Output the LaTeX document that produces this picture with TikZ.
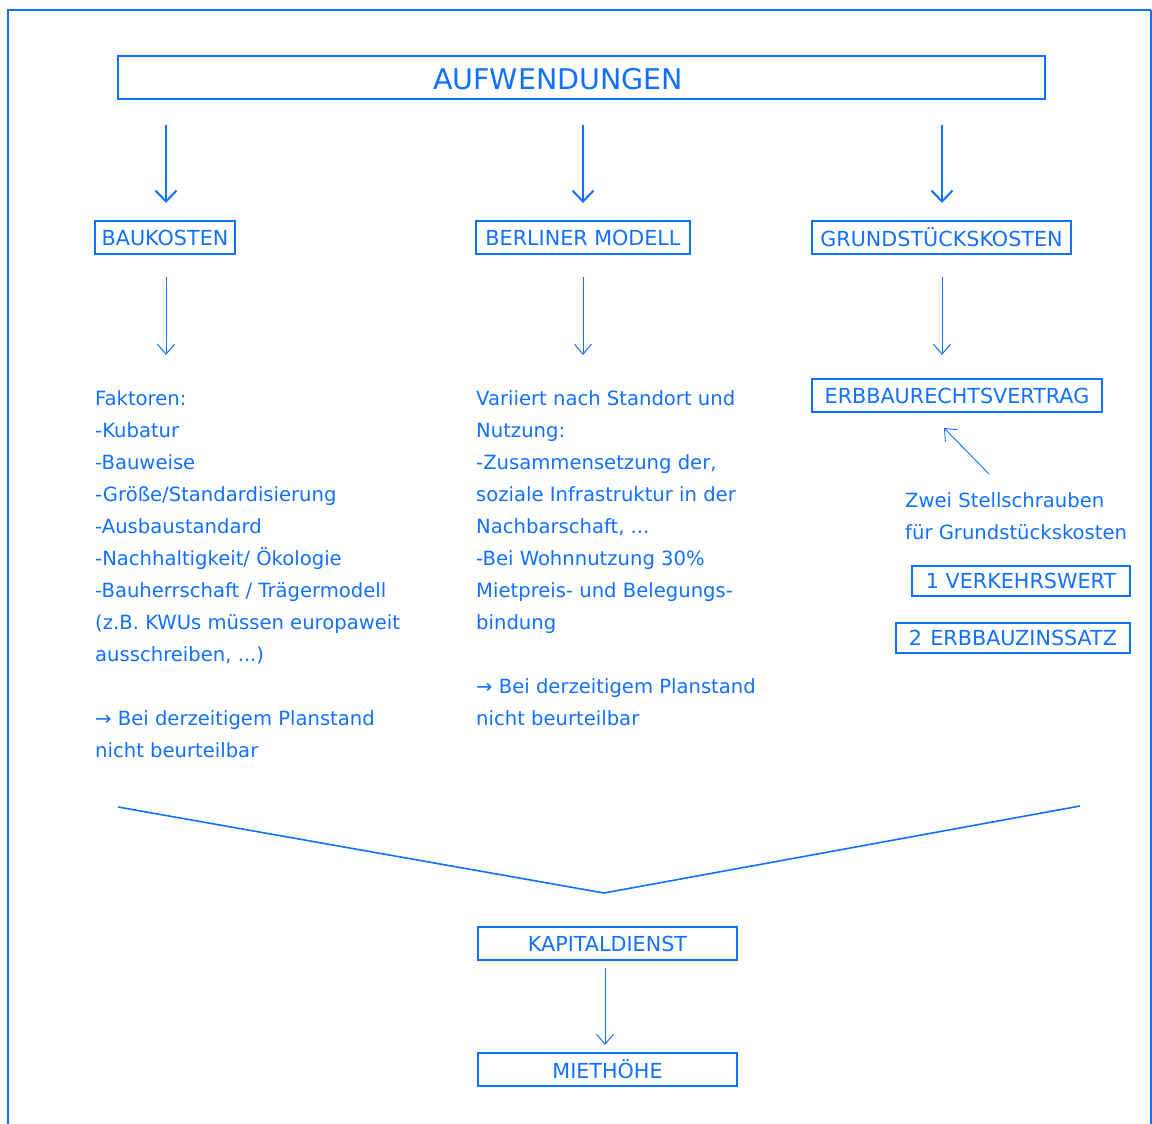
\documentclass[tikz,border=0pt]{standalone}
\usepackage{fontspec}
\setmainfont{DejaVu Sans}
\usetikzlibrary{arrows.meta}
\definecolor{ink}{RGB}{18,112,255}
\begin{document}
\begin{tikzpicture}[x=1pt,y=-1pt,
  every node/.style={text=ink},
  txt/.style={font=\fontsize{19.6}{32}\selectfont, anchor=base west, align=left, inner sep=0pt},
  boxlbl/.style={draw=ink, line width=1.2pt, inner sep=0pt, font=\fontsize{20.7}{24}\selectfont},
  bigarrow/.style={draw=ink, line width=2pt, -{Straight Barb[length=11pt,width=21pt]}},
  smallarrow/.style={draw=ink, line width=1pt, -{Straight Barb[length=10pt,width=17pt]}}
]
\useasboundingbox (0,0) rectangle (1152,1124);
% outer frame, open at the bottom
\draw[ink, line width=2.4pt] (8,1124) -- (8,10) -- (1151,10);
\draw[ink, line width=1.2pt] (1151,10) -- (1151,1124);

% heading
\node[boxlbl, minimum width=927pt, minimum height=43pt] (aufw) at (581.5,77.5) {};
\node[text=ink, font=\fontsize{28.5}{32}\selectfont, inner sep=0pt] (aufwtxt) at (558,79) {AUFWENDUNGEN};

% three cost categories
\node[boxlbl, minimum width=140pt, minimum height=33pt] (bau) at (165,237.5) {BAUKOSTEN};
\node[boxlbl, minimum width=214pt, minimum height=33pt] (berl) at (583,237.5) {BERLINER MODELL};
\node[boxlbl, minimum width=259pt, minimum height=33pt] (grund) at (941.5,237.5) {GRUNDSTÜCKSKOSTEN};

\coordinate (a1s) at (166,125); \coordinate (a1e) at (166,203);
\coordinate (a2s) at (583,125); \coordinate (a2e) at (583,203);
\coordinate (a3s) at (942,125); \coordinate (a3e) at (942,203);
\draw[bigarrow] (a1s) -- (a1e);
\draw[bigarrow] (a2s) -- (a2e);
\draw[bigarrow] (a3s) -- (a3e);

\coordinate (b1s) at (166,277); \coordinate (b1e) at (166,355);
\coordinate (b2s) at (583,277); \coordinate (b2e) at (583,355);
\coordinate (b3s) at (942,277); \coordinate (b3e) at (942,355);
\draw[smallarrow] (b1s) -- (b1e);
\draw[smallarrow] (b2s) -- (b2e);
\draw[smallarrow] (b3s) -- (b3e);

% column texts (anchored at the baseline of their last line)
\node[txt] (col1) at (95,757) {Faktoren:\\-Kubatur\\-Bauweise\\-Größe/Standardisierung\\-Ausbaustandard\\-Nachhaltigkeit/ Ökologie\\-Bauherrschaft / Trägermodell\\(z.B. KWUs müssen europaweit\\ausschreiben, ...)\\[32pt]→ Bei derzeitigem Planstand\\nicht beurteilbar};
\node[txt] (col2) at (476,725) {Variiert nach Standort und\\Nutzung:\\-Zusammensetzung der,\\soziale Infrastruktur in der\\Nachbarschaft, ...\\-Bei Wohnnutzung 30\%\\Mietpreis- und Belegungs-\\bindung\\[32pt]→ Bei derzeitigem Planstand\\nicht beurteilbar};

% land cost column
\node[boxlbl, minimum width=290pt, minimum height=33pt] (erbv) at (957,395.5) {ERBBAURECHTSVERTRAG};
\node[txt] (zwei) at (905,539) {Zwei Stellschrauben\\für Grundstückskosten};
\coordinate (d1) at (989,474);
\coordinate (d2) at (944,428);
\draw[smallarrow, line width=0.9pt] (d1) -- (d2);
\node[boxlbl, minimum width=218pt, minimum height=30pt] (verk) at (1021,581) {1 VERKEHRSWERT};
\node[boxlbl, minimum width=234pt, minimum height=30pt] (zins) at (1013,638) {2\hspace{0.4em}ERBBAUZINSSATZ};

% funnel
\coordinate (fl) at (118,807);
\coordinate (fm) at (604,893);
\coordinate (fr) at (1080,806);
\draw[ink, line width=1.6pt] (fl) -- (fm) -- (fr);

\node[boxlbl, minimum width=259pt, minimum height=33pt] (kap) at (607.5,943.5) {KAPITALDIENST};
\node[boxlbl, minimum width=259pt, minimum height=33pt] (miet) at (607.5,1069.5) {MIETHÖHE};
\coordinate (c1) at (605,968);
\coordinate (c2) at (605,1045);
\draw[smallarrow] (c1) -- (c2);
\end{tikzpicture}
\end{document}
